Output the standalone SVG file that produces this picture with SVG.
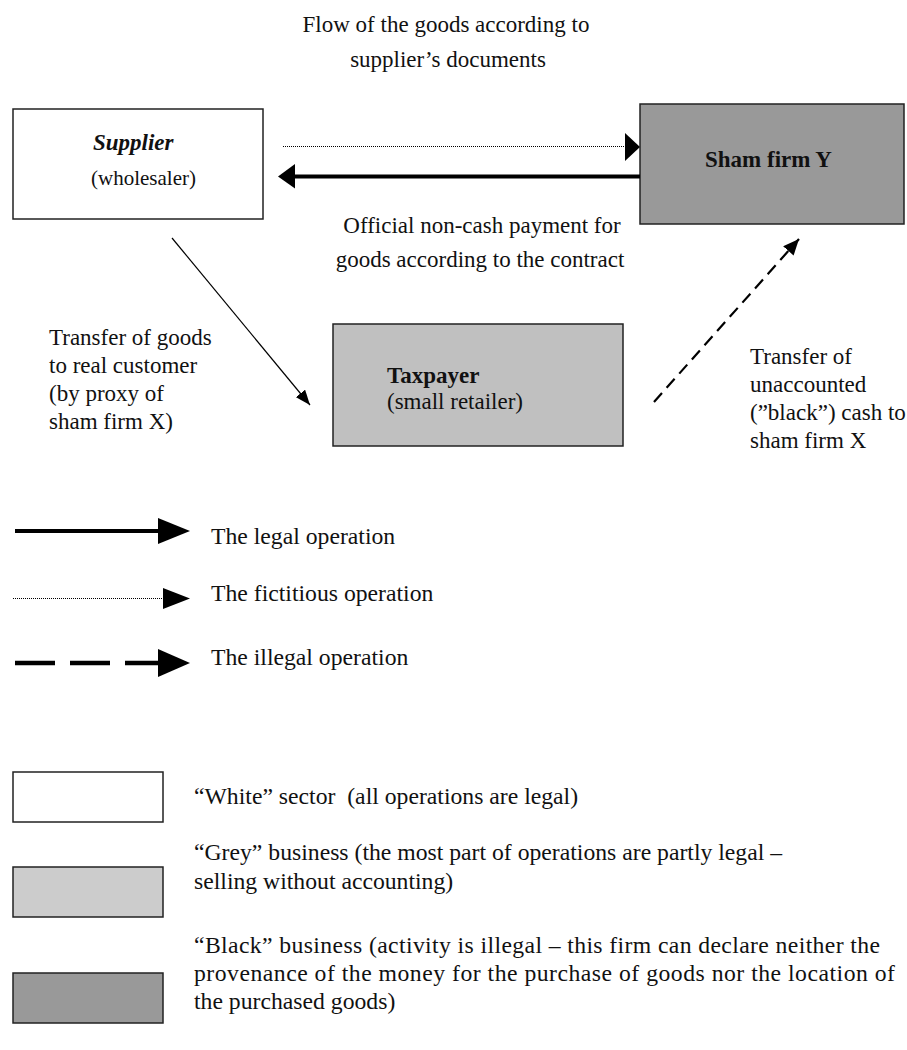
<svg xmlns="http://www.w3.org/2000/svg" width="907" height="1050" viewBox="0 0 907 1050">
<style>
  text { font-family: "Liberation Serif", "Times New Roman", serif; font-size: 23px; fill: #111; }
  .b { font-weight: bold; }
  .bi { font-weight: bold; font-style: italic; }
  .leg { font-size: 23.7px; }
  .box { stroke: #222; stroke-width: 1.5; }
  .white { fill: #ffffff; }
  .grey { fill: #c0c0c0; }
  .lgrey { fill: #cccccc; }
  .dark { fill: #999999; }
  .solid { stroke: #000; stroke-width: 4; fill: none; }
  .thin { stroke: #000; stroke-width: 1.2; fill: none; }
  .dotted { stroke: #000; stroke-width: 1; stroke-dasharray: 1 1; fill: none; shape-rendering: crispEdges; }
  .dashed { stroke: #000; stroke-width: 2.2; stroke-dasharray: 12 7; fill: none; }
  .ldashed { stroke: #000; stroke-width: 4.5; stroke-dasharray: 40 15; fill: none; }
  .head { fill: #000; }
</style>
<defs>
  <marker id="thinHead" markerUnits="userSpaceOnUse" markerWidth="16" markerHeight="12" refX="15" refY="6" orient="auto">
    <polygon points="0,0 15,6 0,12" class="head"/>
  </marker>
  <marker id="dashHead" markerUnits="userSpaceOnUse" markerWidth="17" markerHeight="14" refX="16" refY="7" orient="auto">
    <polygon points="0,0 16,7 0,14" class="head"/>
  </marker>
</defs>

<g id="title">
  <text x="446" y="32" text-anchor="middle">Flow of the goods according to</text>
  <text x="448" y="67" text-anchor="middle">supplier’s documents</text>
</g>

<g id="supplier">
  <rect class="box white" x="13" y="109" width="250" height="110"/>
  <text class="bi" x="93" y="150">Supplier</text>
  <text x="91" y="185" style="font-size:21px">(wholesaler)</text>
</g>

<g id="sham-firm-y">
  <rect class="box dark" x="640" y="104" width="264" height="120"/>
  <text class="b" x="705" y="167">Sham firm Y</text>
</g>

<g id="taxpayer">
  <rect class="box grey" x="333" y="324" width="290" height="122"/>
  <text class="b" x="387" y="383">Taxpayer</text>
  <text x="387" y="409">(small retailer)</text>
</g>

<g id="connectors">
  <line class="dotted" x1="283" y1="146.5" x2="626" y2="146.5"/>
  <polygon class="head" points="625,133 640,147 625,161"/>
  <line class="solid" x1="294" y1="176.5" x2="640" y2="176.5"/>
  <polygon class="head" points="295,164 278,176.5 295,188.5"/>
  <line class="thin" x1="172" y1="238" x2="310" y2="405" marker-end="url(#thinHead)"/>
  <line class="dashed" x1="654" y1="402" x2="799" y2="239" marker-end="url(#dashHead)"/>
</g>

<g id="labels">
  <text x="482" y="233" text-anchor="middle">Official non-cash payment for</text>
  <text x="480" y="267" text-anchor="middle">goods according to the contract</text>
  <text x="49" y="345">Transfer of goods</text>
  <text x="49" y="373">to real customer</text>
  <text x="49" y="401">(by proxy of</text>
  <text x="49" y="429">sham firm X)</text>
  <text x="750" y="364">Transfer of</text>
  <text x="750" y="392">unaccounted</text>
  <text x="750" y="420">(”black”) cash to</text>
  <text x="750" y="448">sham firm X</text>
</g>

<g id="legend-operations">
  <line class="solid" x1="15" y1="531" x2="160" y2="531"/>
  <polygon class="head" points="158,518 190,531 158,544"/>
  <text class="leg" x="211" y="544">The legal operation</text>
  <line class="dotted" x1="13" y1="598.5" x2="164" y2="598.5"/>
  <polygon class="head" points="163,588 190,598.5 163,609"/>
  <text class="leg" x="211" y="601">The fictitious operation</text>
  <line class="ldashed" x1="15" y1="663" x2="160" y2="663"/>
  <polygon class="head" points="158,649 190,663 158,677"/>
  <text class="leg" x="211" y="665">The illegal operation</text>
</g>

<g id="legend-sectors">
  <rect class="box white" x="13" y="772" width="150" height="50"/>
  <text class="leg" x="194" y="804" xml:space="preserve">“White” sector  (all operations are legal)</text>
  <rect class="box lgrey" x="13" y="867" width="150" height="50"/>
  <text class="leg" x="194" y="860">“Grey” business (the most part of operations are partly legal –</text>
  <text class="leg" x="194" y="889">selling without accounting)</text>
  <rect class="box dark" x="13" y="973" width="150" height="50"/>
  <text class="leg" x="194" y="953" textLength="686" lengthAdjust="spacing">“Black” business (activity is illegal – this firm can declare neither the</text>
  <text class="leg" x="194" y="981" textLength="701" lengthAdjust="spacing">provenance of the money for the purchase of goods nor the location of</text>
  <text class="leg" x="194" y="1009">the purchased goods)</text>
</g>
</svg>
